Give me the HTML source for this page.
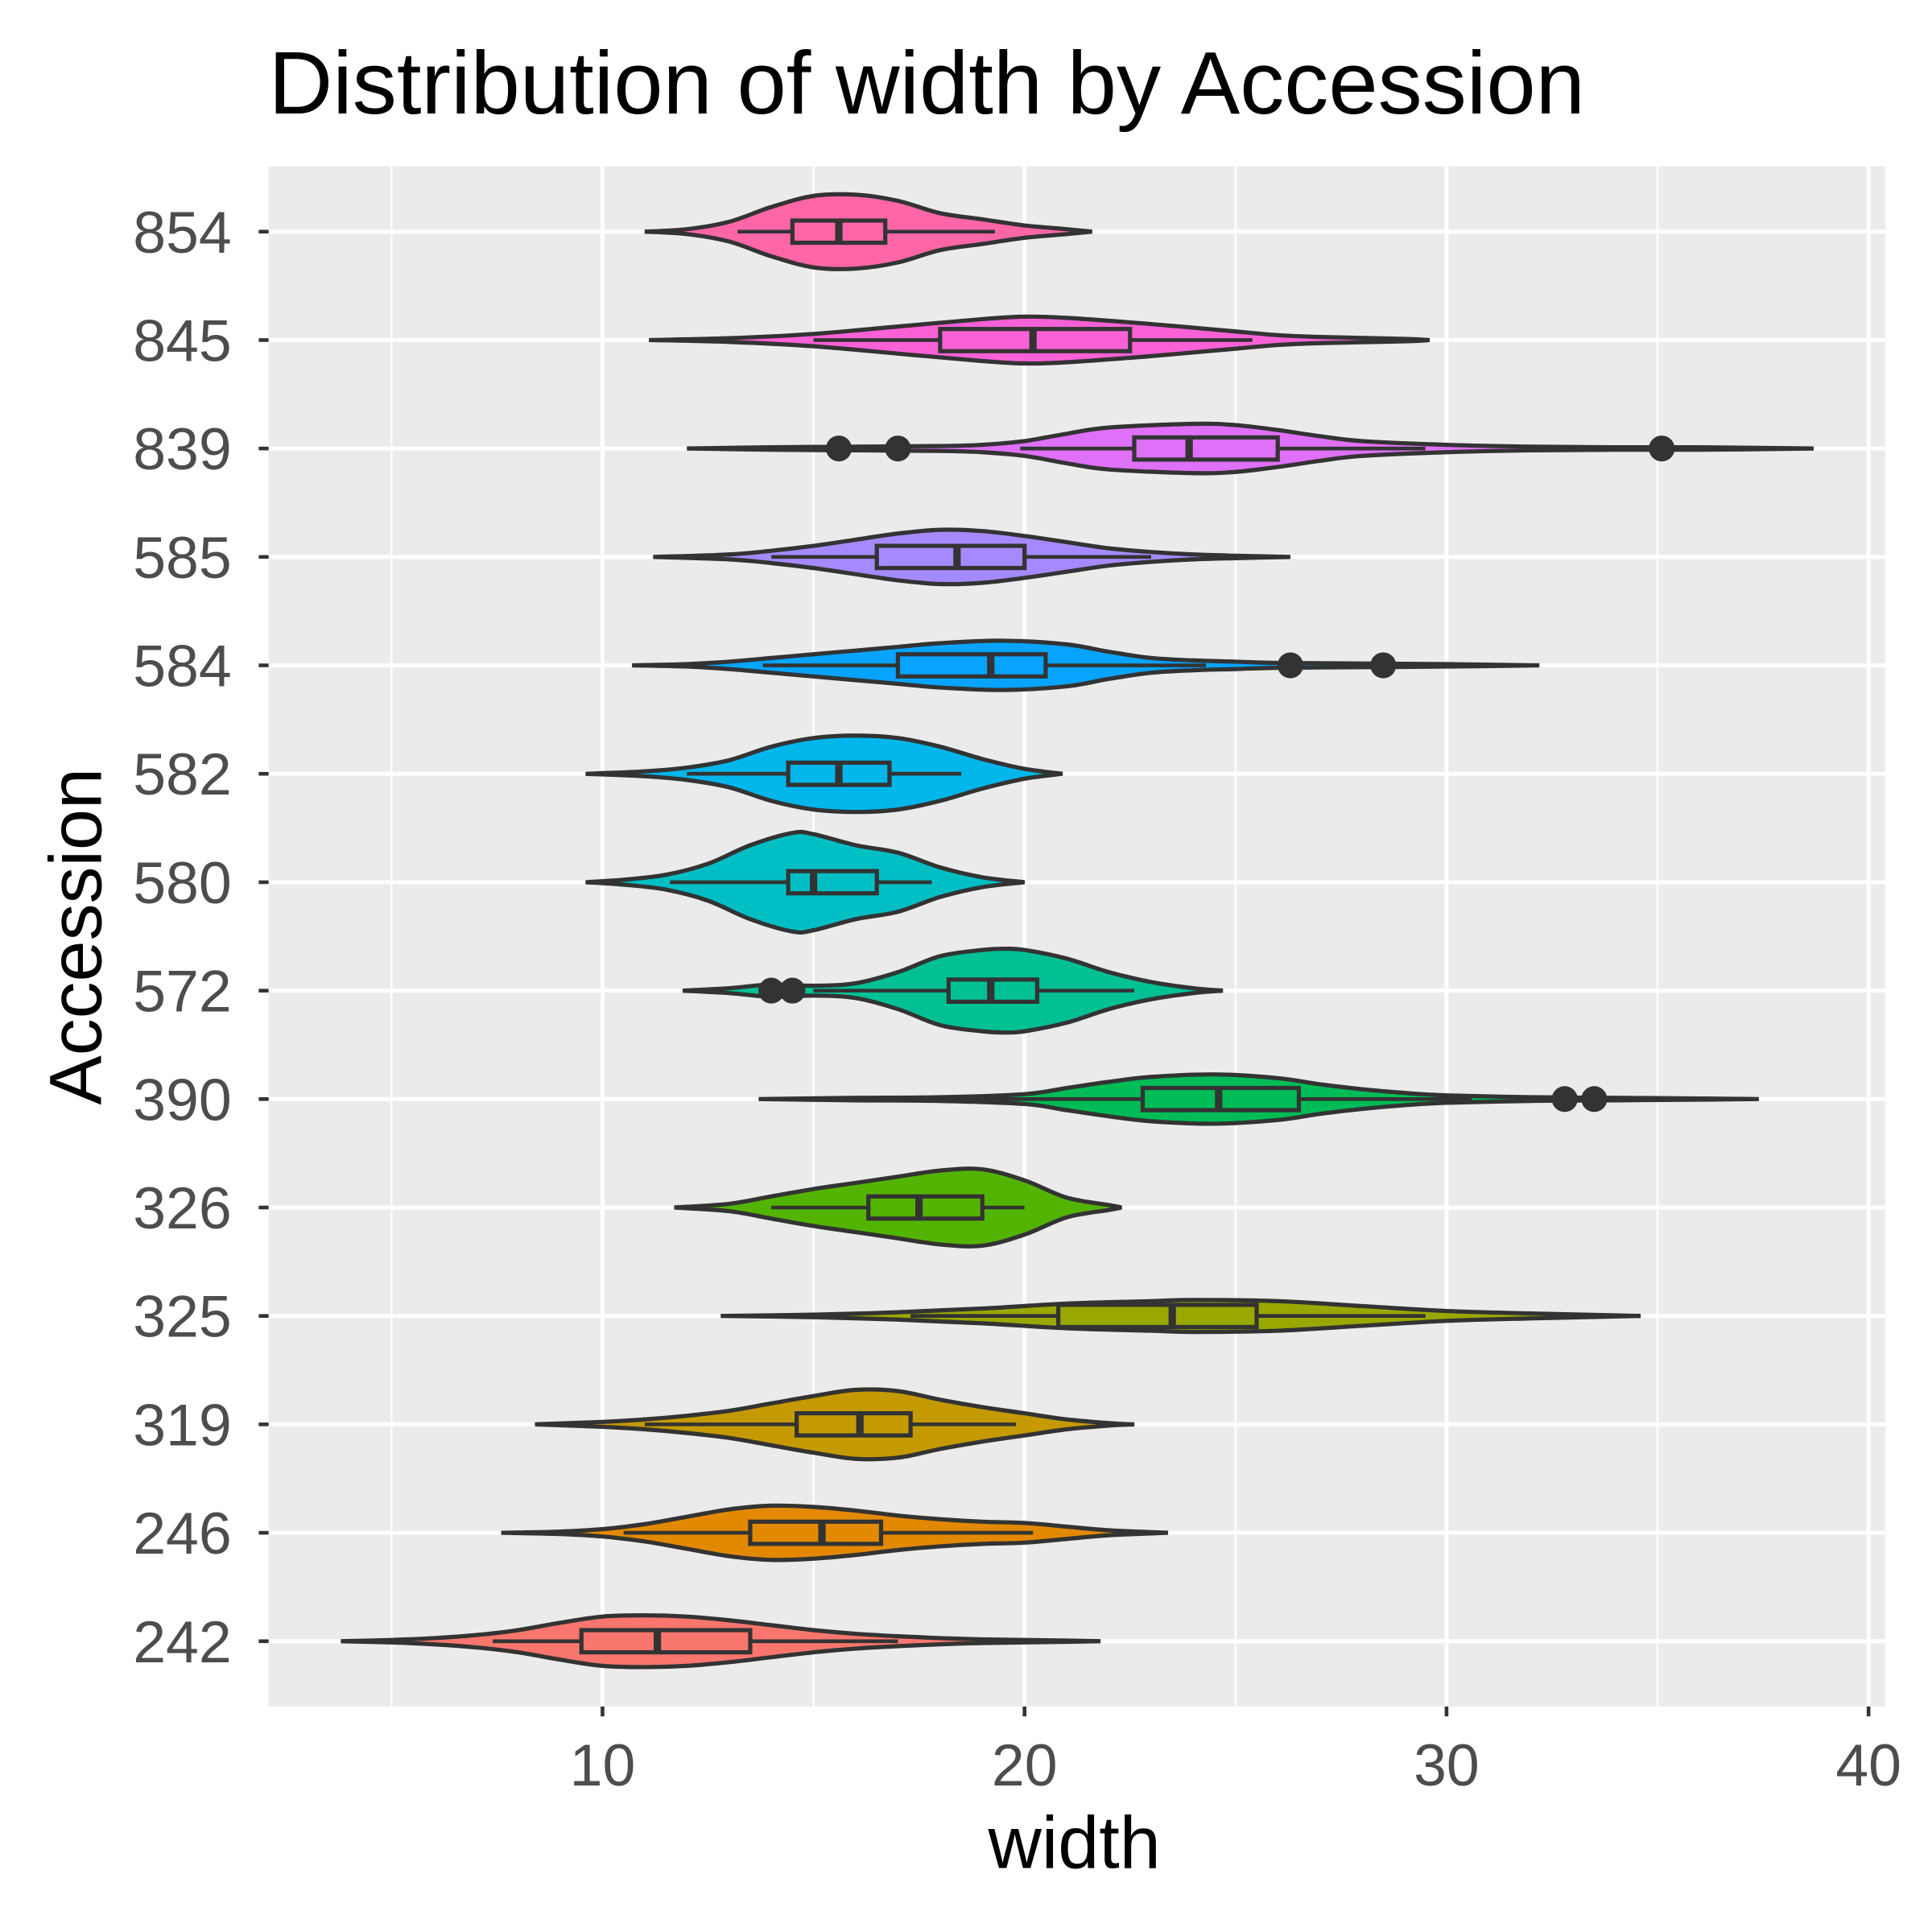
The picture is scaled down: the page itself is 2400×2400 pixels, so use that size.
<!DOCTYPE html>
<html><head><meta charset="utf-8"><style>
html,body{margin:0;padding:0;background:#fff;}
svg{display:block;}
text{font-family:"Liberation Sans",Arial,sans-serif;}
</style></head><body>
<svg id="chart" width="2400" height="2400" viewBox="0 0 1568 1568" xmlns="http://www.w3.org/2000/svg">
<rect width="1568" height="1568" fill="#fff"/>
<text x="218" y="92" font-size="72" fill="#000">Distribution of width by Accession</text>
<rect x="218" y="135" width="1312" height="1250" fill="#EBEBEB"/>
<g id="grid"></g>
<g id="marks"></g>
<g id="axes"></g>
<text x="872" y="1516" font-size="60" text-anchor="middle" fill="#000">width</text>
<text transform="translate(82,760) rotate(-90)" font-size="60" text-anchor="middle" fill="#000">Accession</text>
</svg>
<script>
const categories = ["242","246","319","325","326","390","572","580","582","584","585","839","845","854"];
const colors = ["#F8766D","#E38900","#C49A00","#99A800","#53B400","#00BC56","#00C094","#00BFC4","#00B6EB","#06A4FF","#A58AFF","#DF70F8","#FB61D7","#FF66A8"];
// density profiles: [value, relative half-width]
const densities = [
 [[3.8,0],[5,1],[6,2.5],[7,5],[8,9],[9,15],[10,20],[11,21],[12,20],[13,17],[14,13],[15,9],[16,6],[17,4],[18,2.5],[19,1.5],[21,0.5],[21.8,0]],
 [[7.6,0],[9,1],[10,3],[11,7],[12,13],[13,19],[14,22],[15,21],[16,18],[17,14],[18,11],[19,9],[20,8],[21,5],[22,2],[23.4,0]],
 [[8.4,0],[10,2],[11,4],[12,7],[13,11],[14,17],[15,23],[16,28],[17,27],[18,20],[19,14],[20,9],[21,4],[22,1],[22.6,0]],
 [[12.8,0],[15,1],[17,3],[19,6],[21,10],[23,12],[24,13],[26,12],[28,8],[30,4],[32,2],[34,0.5],[34.6,0]],
 [[11.7,0],[13,3],[14,9],[15,15],[16,20],[17,25],[18,30],[19,31],[20,22],[21,8],[22,2],[22.3,0]],
 [[13.7,0],[16,1],[18,1.5],[20,4],[21,9],[22,14],[23,18],[24.5,20],[26,17],[27,12],[28,8],[29,5],[30,3],[32,1.5],[34,1],[36,0.5],[37.4,0]],
 [[11.9,0],[13,2],[14,5],[15,4],[16,6],[17,15],[18,28],[19,33],[19.5,34],[20,33],[21,26],[22,15],[23,7],[24,2],[24.7,0]],
 [[9.6,0],[10.5,2],[11.5,6],[12.5,15],[13.5,30],[14.5,40],[15,39],[16,30],[17,24],[18,12],[19,4],[20,0]],
 [[9.6,0],[11,2],[12,5],[13,11],[14,22],[15,29],[16,31],[17,29],[18,22],[19,12],[20,4],[20.9,0]],
 [[10.7,0],[12,1],[13,3],[14,6],[15,9],[16,12],[17,15],[18,18],[19.5,20],[21,17],[22,11],[23,6],[24,4],[25,3],[26,2],[28,1.5],[30,1],[32.2,0]],
 [[11.2,0],[13,2],[14,5],[15,9],[16,14],[17,19],[18,22],[19,21],[20,17],[21,12],[22,7],[23,4],[24,2],[25,1],[26.3,0]],
 [[12,0],[14,1],[16,1.5],[18,2],[19,3],[20,6],[21,12],[22,17],[24,20],[25,19],[26,15],[27,10],[28,6],[30,3],[32,1.5],[34,1],[36,1],[38.7,0]],
 [[11.1,0],[13,1.5],[15,5],[17,11],[19,17],[20,19],[21,18],[23,13],[25,7],[26,4],[27,2.5],[29,1],[29.6,0]],
 [[11,0],[12,2],[13,8],[14,20],[15,29],[16,30],[17,25],[18,15],[19,10],[20,5],[21,2],[21.6,0]]
];
const q1 = [9.5,13.5,14.6,20.8,16.3,22.8,18.2,14.4,14.4,17.0,16.5,22.6,18.0,14.5];
const medians = [11.3,15.2,16.1,23.5,17.5,24.6,19.2,15.0,15.6,19.2,18.4,23.9,20.2,15.6];
const q3 = [13.5,16.6,17.3,25.5,19.0,26.5,20.3,16.5,16.8,20.5,20.0,26.0,22.5,16.7];
const whiskerLow = [7.4,10.5,11.0,17.3,14.0,17.0,15.0,11.6,12.0,13.8,14.0,19.9,15.0,13.2];
const whiskerHigh = [17.0,20.2,19.8,29.5,20.0,30.6,22.6,17.8,18.5,24.3,23.0,29.5,25.4,19.3];
const outliers = [[],[],[],[],[],[32.8,33.5],[14.0,14.5],[],[],[26.3,28.5],[],[15.6,17.0,35.1],[],[]];
const xTicks = [10,20,30,40];
const xMinor = [5,15,25,35];

const NS="http://www.w3.org/2000/svg";
const X0=218,X1=1530,Y0=135,Y1=1385;
const xs = v => 146.5 + v*34.25;
const ys = i => 1332 - i*88;
function mk(tag,attrs,parent){const e=document.createElementNS(NS,tag);for(const k in attrs)e.setAttribute(k,attrs[k]);parent.appendChild(e);return e;}
const grid=document.getElementById('grid'),marks=document.getElementById('marks'),axes=document.getElementById('axes');
xMinor.forEach(v=>{const l=mk('line',{x1:xs(v),x2:xs(v),y1:Y0,y2:Y1,stroke:'#fff','stroke-width':1.6},grid);

});
xTicks.forEach(v=>{const l=mk('line',{x1:xs(v),x2:xs(v),y1:Y0,y2:Y1,stroke:'#fff','stroke-width':3.2},grid);


const t=mk('line',{x1:xs(v),x2:xs(v),y1:Y1,y2:Y1+8,stroke:'#333','stroke-width':3},axes);


const tx=mk('text',{x:xs(v),y:1449,'font-size':48,'text-anchor':'middle',fill:'#4D4D4D'},axes);tx.textContent=v;

});
categories.forEach((c,i)=>{const y=ys(i);
const l=mk('line',{x1:X0,x2:X1,y1:y,y2:y,stroke:'#fff','stroke-width':3.2},grid);


const t=mk('line',{x1:X0-8,x2:X0,y1:y,y2:y,stroke:'#333','stroke-width':3},axes);


const tx=mk('text',{x:188,y:y+17,'font-size':48,'text-anchor':'end',fill:'#4D4D4D'},axes);tx.textContent=c;

});

function smooth(pts){let d='M'+pts[0][0]+','+pts[0][1];
for(let i=0;i<pts.length-1;i++){const p0=pts[Math.max(0,i-1)],p1=pts[i],p2=pts[i+1],p3=pts[Math.min(pts.length-1,i+2)];
const c1=[p1[0]+(p2[0]-p0[0])/6,p1[1]+(p2[1]-p0[1])/6],c2=[p2[0]-(p3[0]-p1[0])/6,p2[1]-(p3[1]-p1[1])/6];
d+=' C'+c1[0]+','+c1[1]+' '+c2[0]+','+c2[1]+' '+p2[0]+','+p2[1];}return d;}

categories.forEach((c,i)=>{const y=ys(i);const g=mk('g',{},marks);


const den=densities[i];
const top=den.map(p=>[xs(p[0]),y-p[1]]);const bot=den.slice().reverse().map(p=>[xs(p[0]),y+p[1]]);
const sb=smooth(bot);
const d=smooth(top)+' L'+bot[0][0]+','+bot[0][1]+sb.slice(sb.indexOf(' C'))+' Z';
const v=mk('path',{d:d,fill:colors[i],stroke:'#333','stroke-width':3.4},g);


const w1=mk('line',{x1:xs(whiskerLow[i]),x2:xs(q1[i]),y1:y,y2:y,stroke:'#333','stroke-width':3},g);


const w2=mk('line',{x1:xs(q3[i]),x2:xs(whiskerHigh[i]),y1:y,y2:y,stroke:'#333','stroke-width':3},g);


const b=mk('rect',{x:xs(q1[i]),y:y-9,width:xs(q3[i])-xs(q1[i]),height:18,fill:colors[i],stroke:'#333','stroke-width':3.4},g);


const m=mk('line',{x1:xs(medians[i]),x2:xs(medians[i]),y1:y-9,y2:y+9,stroke:'#333','stroke-width':6},g);


outliers[i].forEach(o=>{const p=mk('circle',{cx:xs(o),cy:y,r:10.5,fill:'#333'},g);

});
});
</script>
</body></html>
